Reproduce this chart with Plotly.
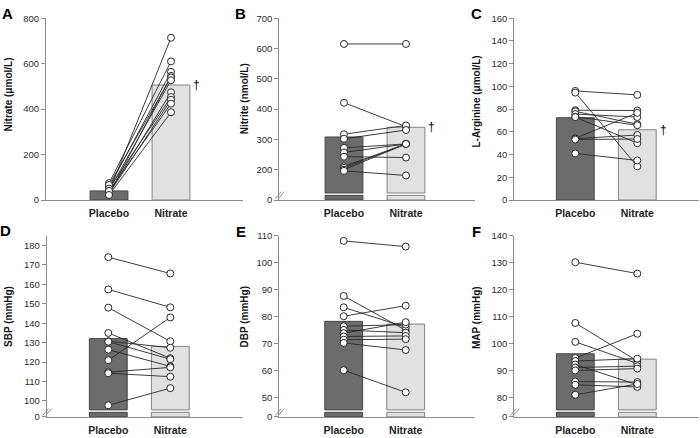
import plotly.graph_objects as go

W, H = 700, 438
FONT = "Liberation Sans, Arial, sans-serif"

groups = ["Placebo", "Nitrate"]

# ---------------- data ----------------
# A: plasma nitrate (µmol/L)
a_placebo = [36, 74, 57, 24, 66, 43, 31, 50, 28, 40, 22]
a_nitrate = [714, 610, 564, 546, 539, 527, 474, 453, 441, 424, 386]
a_means = [40, 506]
a_ticks = [0, 200, 400, 600, 800]

# B: plasma nitrite (nmol/L)
b_placebo = [615, 421, 317, 302, 272, 257, 243, 211, 206, 200, 196]
b_nitrate = [615, 342, 346, 331, 285, 285, 240, 285, 285, 285, 181]
b_means = [308, 340]
b_ticks = [0, 200, 300, 400, 500, 600, 700]

# C: L-arginine (µmol/L)
c_placebo = [96, 94.5, 79, 78, 75.6, 73.3, 73, 54.3, 54, 53.2, 41]
c_nitrate = [92.5, 29.6, 78.7, 66.7, 73, 65.8, 50, 76.7, 57.2, 53.7, 34.8]
c_means = [72.4, 61.8]
c_ticks = [0, 20, 40, 60, 80, 100, 120, 140, 160]

# D: SBP (mmHg)
d_placebo = [174, 157.4, 148, 135, 130.8, 130.5, 126.4, 121, 114.8, 114.3, 97.8]
d_nitrate = [165.6, 148.2, 130.7, 122, 127.4, 121.5, 117.8, 143, 117.3, 112.5, 106.6]
d_means = [132.1, 128.1]
d_ticks = [0, 100, 110, 120, 130, 140, 150, 160, 170, 180]

# E: DBP (mmHg)
e_placebo = [108.1, 87.7, 83.5, 80.2, 76.5, 75.1, 73.9, 72.7, 71.5, 70.3, 60.2]
e_nitrate = [106, 75, 76.1, 84.1, 77.1, 74.1, 78, 72.9, 71.7, 67.7, 52]
e_means = [78.3, 77.3]
e_ticks = [0, 50, 60, 70, 80, 90, 100, 110]

# F: MAP (mmHg)
f_placebo = [130.2, 107.7, 100.7, 94.7, 93.6, 92.3, 91.2, 90.1, 86, 84.8, 81.1]
f_nitrate = [126, 93.6, 92.7, 103.7, 94.5, 84.8, 91.7, 90.8, 85.8, 84, 85.1]
f_means = [96.3, 94.3]
f_ticks = [0, 80, 90, 100, 110, 120, 130, 140]

titles = ["Nitrate (\u03bcmol/L)", "Nitrite (nmol/L)", "L-Arginine (\u03bcmol/L)",
          "SBP (mmHg)", "DBP (mmHg)", "MAP (mmHg)"]
letters = ["A", "B", "C", "D", "E", "F"]
significant = [True, True, True, False, False, False]

# ---------------- layout geometry (pixels) ----------------
panels = [
    dict(p=a_placebo, n=a_nitrate, m=a_means, t=a_ticks, z=None, top=800, l=46, pc=109, r=243, row=0,
         tx=8.7, ty=91, lx=7.5, ly=8),
    dict(p=b_placebo, n=b_nitrate, m=b_means, t=b_ticks, z=100, top=700, l=279.3, pc=344, r=475, row=0,
         tx=244.7, ty=95, lx=240.5, ly=8),
    dict(p=c_placebo, n=c_nitrate, m=c_means, t=c_ticks, z=None, top=160, l=514.3, pc=575.3, r=699, row=0,
         tx=477, ty=98, lx=476.3, ly=8),
    dict(p=d_placebo, n=d_nitrate, m=d_means, t=d_ticks, z=91.8, top=185, l=46.7, pc=108.3, r=243, row=1,
         tx=9, ty=319, lx=5.5, ly=230.5),
    dict(p=e_placebo, n=e_nitrate, m=e_means, t=e_ticks, z=42.9, top=110, l=279.3, pc=343.7, r=475, row=1,
         tx=244.5, ty=319, lx=241.3, ly=231),
    dict(p=f_placebo, n=f_nitrate, m=f_means, t=f_ticks, z=72.9, top=140, l=514.3, pc=575.3, r=699, row=1,
         tx=477, ty=319, lx=476, ly=231),
]
ROWS = [(12.5, 199.0), (235.7, 421.5)]   # top, bottom pixel of plot areas
UNIT = 62.0          # px between Placebo and Nitrate
BARW = 0.61          # bar width in category units
STUB_PX, GAP_PX = 4.7, 2.5

PLACEBO_FILL, PLACEBO_LINE = "rgb(108,108,108)", "rgb(70,70,70)"
NITRATE_FILL, NITRATE_LINE = "rgb(225,225,225)", "rgb(130,130,130)"
AXIS_COLOR = "rgb(140,140,140)"
TEXT_COLOR = "rgb(45,45,45)"

fig = go.Figure()
layout = dict(width=W, height=H, margin=dict(l=0, r=0, t=0, b=0),
              paper_bgcolor="white", plot_bgcolor="white", showlegend=False,
              font=dict(family=FONT, color=TEXT_COLOR))
annotations, shapes = [], []

for i, P in enumerate(panels):
    k = "" if i == 0 else str(i + 1)
    xa, ya = "x" + k, "y" + k
    top_px, bot_px = ROWS[P["row"]]
    ybot = P["z"] if P["z"] is not None else 0
    ppu = (bot_px - top_px) / (P["top"] - ybot)

    xs = [0, 1]
    fills = [PLACEBO_FILL, NITRATE_FILL]
    outlines = [PLACEBO_LINE, NITRATE_LINE]
    if P["z"] is None:
        bases = [0, 0]
    else:
        stub = STUB_PX / ppu
        main_base = ybot + (STUB_PX + GAP_PX) / ppu
        bases = [main_base, main_base]
        fig.add_trace(go.Bar(x=xs, y=[stub, stub], base=[ybot, ybot], width=BARW,
                             marker=dict(color=fills, line=dict(color=outlines, width=1)),
                             xaxis=xa, yaxis=ya, hoverinfo="skip"))
    fig.add_trace(go.Bar(x=xs, y=[m - b for m, b in zip(P["m"], bases)], base=bases, width=BARW,
                         marker=dict(color=fills, line=dict(color=outlines, width=1)),
                         xaxis=xa, yaxis=ya))

    lx, ly = [], []
    for pv, nv in zip(P["p"], P["n"]):
        lx += [0, 1, None]
        ly += [pv, nv, None]
    fig.add_trace(go.Scatter(x=lx, y=ly, mode="lines", line=dict(color="rgb(40,40,40)", width=0.9),
                             xaxis=xa, yaxis=ya, hoverinfo="skip"))
    fig.add_trace(go.Scatter(x=[0] * len(P["p"]) + [1] * len(P["n"]), y=P["p"] + P["n"],
                             mode="markers",
                             marker=dict(size=7, color="white", line=dict(color="rgb(40,40,40)", width=1)),
                             xaxis=xa, yaxis=ya))

    xdom = [P["l"] / W, P["r"] / W]
    ydom = [1 - bot_px / H, 1 - top_px / H]
    tickvals = [ybot if t == 0 else t for t in P["t"]]
    layout["xaxis" + k] = dict(domain=xdom, anchor=ya,
                               range=[(P["l"] - P["pc"]) / UNIT, (P["r"] - P["pc"]) / UNIT],
                               tickmode="array", tickvals=xs,
                               ticktext=["<b>%s</b>" % g for g in groups],
                               tickfont=dict(size=10.5, color="rgb(30,30,30)"),
                               ticklabelstandoff=3,
                               showline=True, linecolor=AXIS_COLOR, linewidth=1,
                               ticks="", showgrid=False, zeroline=False, fixedrange=True)
    layout["yaxis" + k] = dict(domain=ydom, anchor=xa, range=[ybot, P["top"]],
                               tickmode="array", tickvals=tickvals,
                               ticktext=[str(t) for t in P["t"]],
                               tickfont=dict(size=9.5, color=TEXT_COLOR),
                               showline=True, linecolor=AXIS_COLOR, linewidth=1,
                               ticks="outside", ticklen=4, tickcolor=AXIS_COLOR,
                               showgrid=False, zeroline=False, fixedrange=True)

    annotations.append(dict(text="<b>%s</b>" % titles[i], x=P["tx"] / W, y=1 - P["ty"] / H,
                            xref="paper", yref="paper", textangle=-90, showarrow=False,
                            font=dict(size=10, color="rgb(20,20,20)"),
                            xanchor="center", yanchor="middle"))
    annotations.append(dict(text="<b>%s</b>" % letters[i], x=P["lx"] / W, y=1 - P["ly"] / H,
                            xref="paper", yref="paper", showarrow=False,
                            font=dict(size=15, color="black"),
                            xanchor="center", yanchor="middle"))
    if significant[i]:
        annotations.append(dict(text="\u2020", x=1 + BARW / 2 + 7 / UNIT, y=P["m"][1],
                                xref=xa, yref=ya, showarrow=False,
                                font=dict(size=12, color="black"),
                                xanchor="center", yanchor="middle"))
    if P["z"] is not None:
        for j in range(2):
            x0 = P["l"] - 4 + 3 * j
            shapes.append(dict(type="line", xref="paper", yref="paper",
                               x0=x0 / W, x1=(x0 + 6) / W,
                               y0=1 - (bot_px - 1.5) / H, y1=1 - (bot_px - 8.5) / H,
                               line=dict(color=AXIS_COLOR, width=1)))

layout["annotations"] = annotations
layout["shapes"] = shapes
layout["barmode"] = "overlay"
fig.update_layout(**layout)
fig.write_html("out.html", config={"displayModeBar": False, "staticPlot": True},
               post_script="document.body.style.margin='0';document.body.style.overflow='hidden';")
